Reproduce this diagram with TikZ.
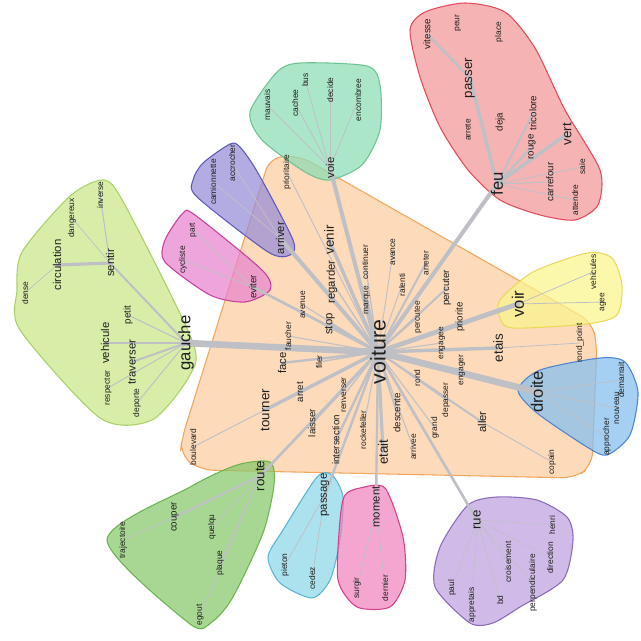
\documentclass[tikz,border=0pt]{standalone}
\usepackage{fontspec}
\setmainfont{Liberation Sans}
\pgfdeclarelayer{hulls}
\pgfdeclarelayer{edges}
\pgfsetlayers{hulls,edges,main}
\definecolor{txt}{RGB}{30,30,30}
\definecolor{edgec}{RGB}{190,192,198}
\definecolor{orF}{RGB}{252,204,160}\definecolor{orD}{RGB}{240,160,80}
\definecolor{rdF}{RGB}{242,150,150}\definecolor{rdD}{RGB}{225,60,80}
\definecolor{tlF}{RGB}{140,220,180}\definecolor{tlD}{RGB}{100,190,140}
\definecolor{puF}{RGB}{150,140,215}\definecolor{puD}{RGB}{80,80,180}
\definecolor{mgF}{RGB}{232,130,205}\definecolor{mgD}{RGB}{195,50,150}
\definecolor{lgF}{RGB}{200,230,135}\definecolor{lgD}{RGB}{165,205,95}
\definecolor{ylF}{RGB}{250,245,140}\definecolor{ylD}{RGB}{230,215,80}
\definecolor{blF}{RGB}{130,190,240}\definecolor{blD}{RGB}{65,125,210}
\definecolor{rgF}{RGB}{135,200,105}\definecolor{rgD}{RGB}{100,175,70}
\definecolor{cyF}{RGB}{140,215,232}\definecolor{cyD}{RGB}{80,175,210}
\definecolor{pkF}{RGB}{240,130,190}\definecolor{pkD}{RGB}{210,50,130}
\definecolor{viF}{RGB}{190,160,222}\definecolor{viD}{RGB}{130,95,180}
\tikzset{
 w/.style={rotate=90, inner sep=0.5pt, text=txt},
 hub/.style={w, font=\fontsize{16}{16}\selectfont},
 hd/.style={w, font=\fontsize{12.5}{12.5}\selectfont},
 xl/.style={w, font=\fontsize{10}{10}\selectfont},
 lg/.style={w, font=\fontsize{8.5}{8.5}\selectfont},
 md/.style={w, font=\fontsize{7.3}{7.3}\selectfont},
 sm/.style={w, font=\fontsize{6.3}{6.3}\selectfont},
 ed/.style={draw=edgec, line width=#1, line cap=round},
 hull/.style 2 args={fill=#1, draw=#2, fill opacity=0.72, draw opacity=0.9, line width=0.8pt},
 blob/.style={smooth cycle, tension=0.45},
}
\begin{document}
\begin{tikzpicture}[x=0.75pt,y=-0.75pt]
\useasboundingbox (0,0) rectangle (640,641);
% ---------------- hulls
\begin{pgfonlayer}{hulls}
\path[hull={orF}{orD}, rounded corners=10pt] (226,297) -- (270,157) -- (300,156) -- (592,322) -- (597,345) -- (592,466) -- (575,478) -- (200,470) -- (180,455) -- (182,438) -- cycle;
\path[hull={rdF}{rdD}] plot[blob] coordinates {(410,30) (425,12) (465,3) (505,12) (535,48) (565,110) (600,170) (598,205) (575,220) (540,215) (500,200) (468,170) (440,127) (420,77)};
\path[hull={tlF}{tlD}] plot[blob] coordinates {(250,112) (277,72) (300,63) (367,66) (380,85) (380,130) (362,165) (330,180) (305,172) (262,140)};
\path[hull={puF}{puD}] plot[blob] coordinates {(193,180) (203,163) (230,144) (240,147) (258,173) (293,240) (290,255) (268,252) (197,197)};
\path[hull={mgF}{mgD}] plot[blob] coordinates {(165,240) (183,213) (195,215) (262,270) (270,290) (245,302) (210,295) (165,262)};
\path[hull={lgF}{lgD}] plot[blob] coordinates {(22,252) (70,196) (104,180) (125,205) (192,340) (190,375) (152,420) (100,418) (20,330) (17,290)};
\path[hull={ylF}{ylD}] plot[blob] coordinates {(500,300) (533,272) (587,253) (612,258) (622,285) (617,315) (587,324) (513,328) (500,318)};
\path[hull={blF}{blD}] plot[blob] coordinates {(518,390) (540,370) (600,358) (625,362) (638,392) (630,435) (607,455) (587,447) (537,413)};
\path[hull={rgF}{rgD}] plot[blob] coordinates {(107,540) (190,487) (237,465) (270,462) (274,485) (263,533) (233,597) (212,622) (190,624)};
\path[hull={cyF}{cyD}] plot[blob] coordinates {(317,477) (332,475) (343,497) (340,540) (330,580) (312,598) (280,583) (268,557) (283,530)};
\path[hull={pkF}{pkD}] plot[blob] coordinates {(345,495) (360,488) (385,488) (403,537) (405,580) (390,607) (357,607) (338,580) (340,520)};
\path[hull={viF}{viD}] plot[blob] coordinates {(468,505) (497,497) (537,500) (567,517) (573,540) (563,580) (520,607) (493,623) (470,623) (435,587) (440,547)};
\end{pgfonlayer}
% ---------------- words
\node[hub] (voiture) at (378,352) {voiture};
\node[hd] (gauche) at (186,343) {gauche};
\node[hd] (droite) at (537,392) {droite};
\node[hd] (feu) at (497,184) {feu};
\node[hd] (voir) at (518,304) {voir};
\node[xl] (venir) at (329,240) {venir};
\node[xl] (route) at (260,476) {route};
\node[xl] (passer) at (470,78) {passer};
\node[xl] (etais) at (498,348) {etais};
\node[xl] (tourner) at (265,410) {tourner};
\node[xl] (rue) at (477,520) {rue};
\node[xl] (etait) at (383,452) {etait};
\node[xl] (vert) at (567,134) {vert};
\node[lg] (arriver) at (280,238) {arriver};
\node[lg] (voie) at (330,168) {voie};
\node[lg] (passage) at (325,495) {passage};
\node[lg] (sentir) at (110,263) {sentir};
\node[lg] (circulation) at (57,265) {circulation};
\node[lg] (traverser) at (132,362) {traverser};
\node[lg] (vehicule) at (105,343) {vehicule};
\node[lg] (face) at (282,363) {face};
\node[lg] (regarder) at (332,282) {regarder};
\node[lg] (stop) at (330,324) {stop};
\node[lg] (aller) at (482,422) {aller};
\node[lg] (moment) at (376,507) {moment};
\node[md] (laisser) at (312,423) {laisser};
\node[md] (intersection) at (336,440) {intersection};
\node[md] (arret) at (300,392) {arret};
\node[md] (descente) at (397,413) {descente};
\node[md] (percuter) at (447,288) {percuter};
\node[md] (rouge) at (532,147) {rouge};
\node[md] (tricolore) at (533,113) {tricolore};
\node[md] (carrefour) at (550,182) {carrefour};
\node[md] (vitesse) at (427,34) {vitesse};
\node[md] (priorite) at (460,317) {priorite};
\node[md] (deja) at (500,122) {deja};
\node[md] (eviter) at (253,287) {eviter};
\node[md] (petit) at (128,315) {petit};
\node[md] (couper) at (175,517) {couper};
\node[sm] (surgir) at (357,588) {surgir};
\node[sm] (dernier) at (385,588) {dernier};
\node[sm] (croisement) at (508,562) {croisement};
\node[sm] (direction) at (550,558) {direction};
\node[sm] (henri) at (552,525) {henri};
\node[sm] (perpendiculaire) at (533,583) {perpendiculaire};
\node[sm] (bd) at (500,600) {bd};
\node[sm] (paul) at (452,588) {paul};
\node[sm] (appretais) at (472,605) {appretais};
\node[sm] (pieton) at (285,565) {pieton};
\node[sm] (cedez) at (312,578) {cedez};
\node[sm] (trajectoire) at (123,540) {trajectoire};
\node[sm] (quelqu) at (212,527) {quelqu};
\node[sm] (plaque) at (220,563) {plaque};
\node[sm] (egout) at (200,615) {egout};
\node[sm] (boulevard) at (193,447) {boulevard};
\node[sm] (renverser) at (344,395) {renverser};
\node[sm] (rockefeller) at (363,430) {rockefeller};
\node[sm] (arrivee) at (413,447) {arrivee};
\node[sm] (grand) at (435,428) {grand};
\node[sm] (depasser) at (446,400) {depasser};
\node[sm] (rond) at (417,378) {rond};
\node[sm] (engager) at (462,370) {engager};
\node[sm] (engagee) at (442,343) {engagee};
\node[sm] (percutee) at (418,317) {percutee};
\node[sm] (ralenti) at (402,285) {ralenti};
\node[sm] (arreter) at (426,263) {arreter};
\node[sm] (avance) at (393,252) {avance};
\node[sm] (continuer) at (365,262) {continuer};
\node[sm] (marque) at (367,300) {marque};
\node[sm] (avenue) at (303,305) {avenue};
\node[sm] (faucher) at (288,336) {faucher};
\node[sm] (filer) at (319,362) {filer};
\node[sm] (prioritaire) at (287,172) {prioritaire};
\node[sm] (copain) at (552,462) {copain};
\node[sm] (rondpoint) at (580,343) {rond\_point};
\node[sm] (nouveau) at (617,408) {nouveau};
\node[sm] (demarrait) at (621,380) {demarrait};
\node[sm] (approcher) at (607,437) {approcher};
\node[sm] (vehicules) at (593,272) {vehicules};
\node[sm] (agee) at (603,302) {agee};
\node[sm] (camionnette) at (213,182) {camionnette};
\node[sm] (accrocher) at (232,163) {accrocher};
\node[sm] (cycliste) at (183,260) {cycliste};
\node[sm] (part) at (193,230) {part};
\node[sm] (inverse) at (100,195) {inverse};
\node[sm] (dangereux) at (72,218) {dangereux};
\node[sm] (dense) at (25,293) {dense};
\node[sm] (respecter) at (108,388) {respecter};
\node[sm] (deporte) at (137,403) {deporte};
\node[sm] (mauvais) at (267,105) {mauvais};
\node[sm] (cachee) at (295,103) {cachee};
\node[sm] (bus) at (305,80) {bus};
\node[sm] (decide) at (330,90) {decide};
\node[sm] (encombree) at (358,100) {encombree};
\node[sm] (peur) at (458,23) {peur};
\node[sm] (place) at (499,32) {place};
\node[sm] (arrete) at (468,130) {arrete};
\node[sm] (saie) at (582,167) {saie};
\node[sm] (attendre) at (575,200) {attendre};
% ---------------- edges
\begin{pgfonlayer}{edges}
\foreach \t/\wd in {gauche/5pt, droite/5pt, voir/3.6pt, feu/3pt, etais/2.6pt, voie/3pt, arriver/3pt, venir/2.6pt,
  eviter/2pt, stop/2pt, regarder/1pt, marque/2pt, continuer/1pt, avance/0.7pt, ralenti/0.7pt, arreter/1.5pt,
  percuter/1.5pt, percutee/0.8pt, engagee/0.8pt, engager/0.8pt, rond/1pt, depasser/0.8pt, aller/1.5pt,
  grand/0.8pt, arrivee/0.8pt, descente/1.5pt, etait/2.4pt, moment/1.8pt, rue/2pt, rockefeller/0.8pt,
  passage/1.8pt, intersection/1.8pt, renverser/1pt, laisser/2pt, route/2pt, arret/2pt, tourner/2.6pt,
  face/1.8pt, filer/1pt, faucher/0.8pt, avenue/0.8pt, prioritaire/0.7pt}
  {\draw[ed=\wd] (voiture.center) -- (\t.center);}
\draw[ed=0.7pt] (aller.center) -- (copain.center);
\draw[ed=0.7pt] (tourner.center) -- (boulevard.center);
\draw[ed=0.6pt] (voir.center) -- (vehicules.center);
\draw[ed=0.6pt] (voir.center) -- (agee.center);
\draw[ed=0.6pt] (etais.center) -- (rondpoint.center);
\foreach \t in {nouveau, demarrait, approcher} {\draw[ed=0.6pt] (droite.center) -- (\t.center);}
\draw[ed=1.5pt] (gauche.center) -- (sentir.center);
\draw[ed=2.4pt] (sentir.center) -- (circulation.center);
\draw[ed=0.8pt] (sentir.center) -- (inverse.center);
\draw[ed=0.5pt] (sentir.center) -- (dangereux.center);
\draw[ed=0.5pt] (circulation.center) -- (dense.center);
\foreach \t/\wd in {petit/0.8pt, vehicule/0.8pt, traverser/1.5pt, respecter/0.7pt, deporte/0.7pt}
  {\draw[ed=\wd] (gauche.center) -- (\t.center);}
\draw[ed=2.6pt] (feu.center) -- (passer.center);
\draw[ed=1.8pt] (passer.center) -- (vitesse.center);
\foreach \t/\wd in {rouge/1.8pt, tricolore/1.5pt, vert/2.6pt, carrefour/0.8pt, saie/0.6pt, attendre/0.6pt}
  {\draw[ed=\wd] (feu.center) -- (\t.center);}
\foreach \t in {bus, cachee, mauvais, decide, encombree} {\draw[ed=0.6pt] (voie.center) -- (\t.center);}
\foreach \t in {camionnette, accrocher} {\draw[ed=0.6pt] (arriver.center) -- (\t.center);}
\foreach \t in {cycliste, part} {\draw[ed=0.6pt] (eviter.center) -- (\t.center);}
\draw[ed=1.5pt] (route.center) -- (couper.center);
\draw[ed=0.6pt] (couper.center) -- (trajectoire.center);
\foreach \t in {quelqu, plaque, egout} {\draw[ed=0.6pt] (route.center) -- (\t.center);}
\foreach \t in {pieton, cedez} {\draw[ed=0.6pt] (passage.center) -- (\t.center);}
\foreach \t in {surgir, dernier} {\draw[ed=0.6pt] (moment.center) -- (\t.center);}
\foreach \t in {paul, appretais, bd, croisement, perpendiculaire, direction, henri} {\draw[ed=0.4pt] (rue.center) -- (\t.center);}
\end{pgfonlayer}
\end{tikzpicture}
\end{document}
